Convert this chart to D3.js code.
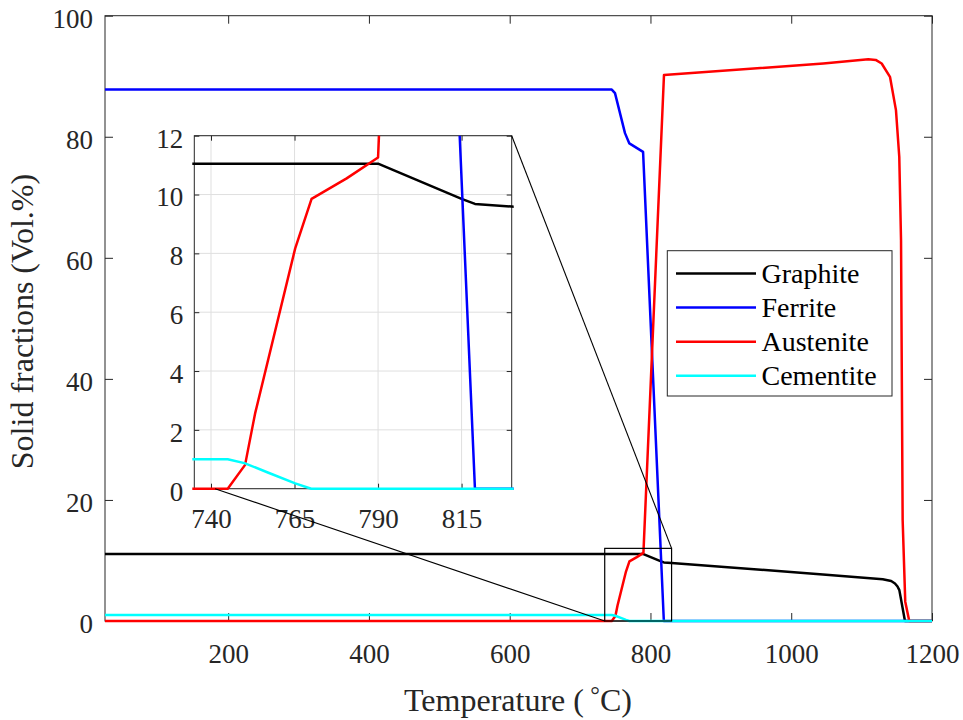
<!DOCTYPE html>
<html><head><meta charset="utf-8">
<script src="https://cdn.jsdelivr.net/npm/d3@7"></script>
<style>body{margin:0;background:#fff}svg{display:block}svg text{font-family:"Liberation Serif","Times New Roman",serif !important}</style>
</head><body><svg id="c" width="963" height="720"></svg>
<script>
// ---- data ----
const seriesNames = ["Graphite","Ferrite","Austenite","Cementite"];
const seriesColors = ["#000000","#0000ff","#ff0000","#00ffff"];
const graphite = [[25,11.05],[790,11.05],[815,9.85],[819,9.68],[830,9.59],[1045,7.7],[1130,6.9],[1142,6.6],[1147.4,6.2],[1151,5.7],[1153.6,5.1],[1161.6,0],[1200,0]];
const ferrite = [[25,87.8],[745,87.8],[749.6,87.2],[763.8,80.6],[770,78.9],[789.5,77.5],[819,0],[1200,0]];
const austenite = [[25,0],[745,0],[750.2,0.81],[753.2,2.56],[765.2,8.17],[770.1,9.85],[780.6,10.55],[790,11.26],[819.2,90.2],[1045.6,92.1],[1109.5,92.8],[1120,92.7],[1128.5,92.1],[1140.3,89.9],[1148.8,84.4],[1153.5,76.7],[1156,62.9],[1158.3,16.7],[1162,3.2],[1167.7,0],[1200,0]];
const cementite = [[25,1.0],[745,1.0],[750,0.87],[757,0.55],[765.2,0.18],[770,0],[1200,0]];
const mainXTicks = [200,400,600,800,1000,1200];
const mainYTicks = [0,20,40,60,80,100];
const insetXTicks = [740,765,790,815];
const insetYTicks = [0,2,4,6,8,10,12];
const zoomBox = {x0:735,x1:830,y0:0,y1:12};
// connectors: [inset point, main point] in data coords
const connectors = [[[830,12],[830,12]],[[741.2,0],[735,0]]];
const xLabel = "Temperature (";
const yLabel = "Solid fractions (Vol.%)";

const allSeries = [graphite,ferrite,austenite,cementite];
const svg = d3.select("#c");
const axCol = "#262626";
const FONT = "'Liberation Serif', 'Times New Roman', serif";
const LW = 2.5;

// ---- main axes ----
const x = d3.scaleLinear([25,1200],[105,932]);
const y = d3.scaleLinear([0,100],[621,15.7]);
const defs = svg.append("defs");
defs.append("clipPath").attr("id","cm").append("rect")
  .attr("x",102).attr("y",12).attr("width",833).attr("height",613);

const tickStyle = g=>{g.attr("font-family",null);g.select(".domain").remove();g.selectAll("line").attr("stroke",axCol);g.selectAll("text").attr("fill",axCol).style("font-family",FONT);};
svg.append("g").attr("transform","translate(0,621)")
  .call(d3.axisBottom(x).tickValues(mainXTicks).tickSize(-8).tickFormat(d3.format("d")))
  .call(tickStyle).call(g=>g.selectAll("text").attr("font-size",27).attr("dy","0.71em").attr("y",23));
svg.append("g").attr("transform","translate(0,15.7)")
  .call(d3.axisTop(x).tickValues(mainXTicks).tickSize(-8).tickFormat(""))
  .call(tickStyle);
svg.append("g").attr("transform","translate(105,0)")
  .call(d3.axisLeft(y).tickValues(mainYTicks).tickSize(-8).tickFormat(d3.format("d")))
  .call(tickStyle).call(g=>g.selectAll("text").attr("font-size",27).attr("x",-12).attr("dy","0.42em"));
svg.append("g").attr("transform","translate(932,0)")
  .call(d3.axisRight(y).tickValues(mainYTicks).tickSize(-8).tickFormat(""))
  .call(tickStyle);
svg.append("rect").attr("x",105).attr("y",15.7).attr("width",827).attr("height",605.3)
  .attr("fill","none").attr("stroke",axCol).attr("stroke-width",1);

const line = d3.line().x(d=>x(d[0])).y(d=>y(d[1]));
const gLines = svg.append("g").attr("clip-path","url(#cm)");
allSeries.forEach((s,i)=>{
  gLines.append("path").attr("d",line(s)).attr("fill","none")
    .attr("stroke",seriesColors[i]).attr("stroke-width",LW).attr("stroke-linejoin","round");
});

// axis labels
const xl = svg.append("text").attr("x",518).attr("y",711).attr("text-anchor","middle")
  .attr("font-size",32).attr("fill",axCol);
xl.append("tspan").text(xLabel + "\u2009");
xl.append("tspan").text("\u00B0").attr("font-size",24).attr("dy",-8);
xl.append("tspan").text("C)").attr("dy",8);
svg.append("text").attr("transform","translate(33,321.5) rotate(-90)").attr("text-anchor","middle")
  .attr("font-size",32).attr("fill",axCol).text(yLabel);

// zoom rectangle
svg.append("rect").attr("x",x(zoomBox.x0)).attr("y",y(zoomBox.y1))
  .attr("width",x(zoomBox.x1)-x(zoomBox.x0)).attr("height",y(zoomBox.y0)-y(zoomBox.y1))
  .attr("fill","none").attr("stroke","#000").attr("stroke-width",1.2);

// ---- inset ----
const xi = d3.scaleLinear([735,830],[194.3,511.7]);
const yi = d3.scaleLinear([0,12],[488.7,135.7]);
defs.append("clipPath").attr("id","ci").append("rect")
  .attr("x",192.3).attr("y",135.7).attr("width",321.4).attr("height",355);
const gi = svg.append("g");
gi.append("rect").attr("x",194.3).attr("y",135.7).attr("width",317.4).attr("height",353).attr("fill","#fff");
// grid
gi.append("g").selectAll("line").data(insetXTicks).join("line")
  .attr("x1",d=>xi(d)).attr("x2",d=>xi(d)).attr("y1",135.7).attr("y2",488.7)
  .attr("stroke","#dfdfdf").attr("stroke-width",1);
gi.append("g").selectAll("line").data(insetYTicks).join("line")
  .attr("y1",d=>yi(d)).attr("y2",d=>yi(d)).attr("x1",194.3).attr("x2",511.7)
  .attr("stroke","#dfdfdf").attr("stroke-width",1);
gi.append("g").attr("transform","translate(0,488.7)")
  .call(d3.axisBottom(xi).tickValues(insetXTicks).tickSize(-5).tickFormat(d3.format("d")))
  .call(tickStyle).call(g=>g.selectAll("text").attr("font-size",27).attr("y",20).attr("dy","0.71em"));
gi.append("g").attr("transform","translate(0,135.7)")
  .call(d3.axisTop(xi).tickValues(insetXTicks).tickSize(-5).tickFormat(""))
  .call(tickStyle);
gi.append("g").attr("transform","translate(194.3,0)")
  .call(d3.axisLeft(yi).tickValues(insetYTicks).tickSize(-5).tickFormat(d3.format("d")))
  .call(tickStyle).call(g=>g.selectAll("text").attr("font-size",27).attr("x",-11).attr("dy","0.42em"));
gi.append("g").attr("transform","translate(511.7,0)")
  .call(d3.axisRight(yi).tickValues(insetYTicks).tickSize(-5).tickFormat(""))
  .call(tickStyle);
gi.append("rect").attr("x",194.3).attr("y",135.7).attr("width",317.4).attr("height",353)
  .attr("fill","none").attr("stroke",axCol).attr("stroke-width",1);
const linei = d3.line().x(d=>xi(d[0])).y(d=>yi(d[1]));
const giLines = gi.append("g").attr("clip-path","url(#ci)");
allSeries.forEach((s,i)=>{
  giLines.append("path").attr("d",linei(s)).attr("fill","none")
    .attr("stroke",seriesColors[i]).attr("stroke-width",LW).attr("stroke-linejoin","round");
});

// connectors
svg.append("g").selectAll("line").data(connectors).join("line")
  .attr("x1",d=>xi(d[0][0])).attr("y1",d=>yi(d[0][1]))
  .attr("x2",d=>x(d[1][0])).attr("y2",d=>y(d[1][1]))
  .attr("stroke","#000").attr("stroke-width",1.1);

// ---- legend ----
const lg = svg.append("g");
lg.append("rect").attr("x",667.3).attr("y",250.7).attr("width",224.7).attr("height",145.3)
  .attr("fill","#fff").attr("stroke",axCol).attr("stroke-width",1);
seriesNames.forEach((n,i)=>{
  const cy = 273.5 + i*34.1;
  lg.append("line").attr("x1",676).attr("x2",756).attr("y1",cy).attr("y2",cy)
    .attr("stroke",seriesColors[i]).attr("stroke-width",LW);
  lg.append("text").attr("x",761.5).attr("y",cy).attr("dy","0.33em")
    .attr("font-size",28).attr("fill","#000").text(n);
});
</script></body></html>
